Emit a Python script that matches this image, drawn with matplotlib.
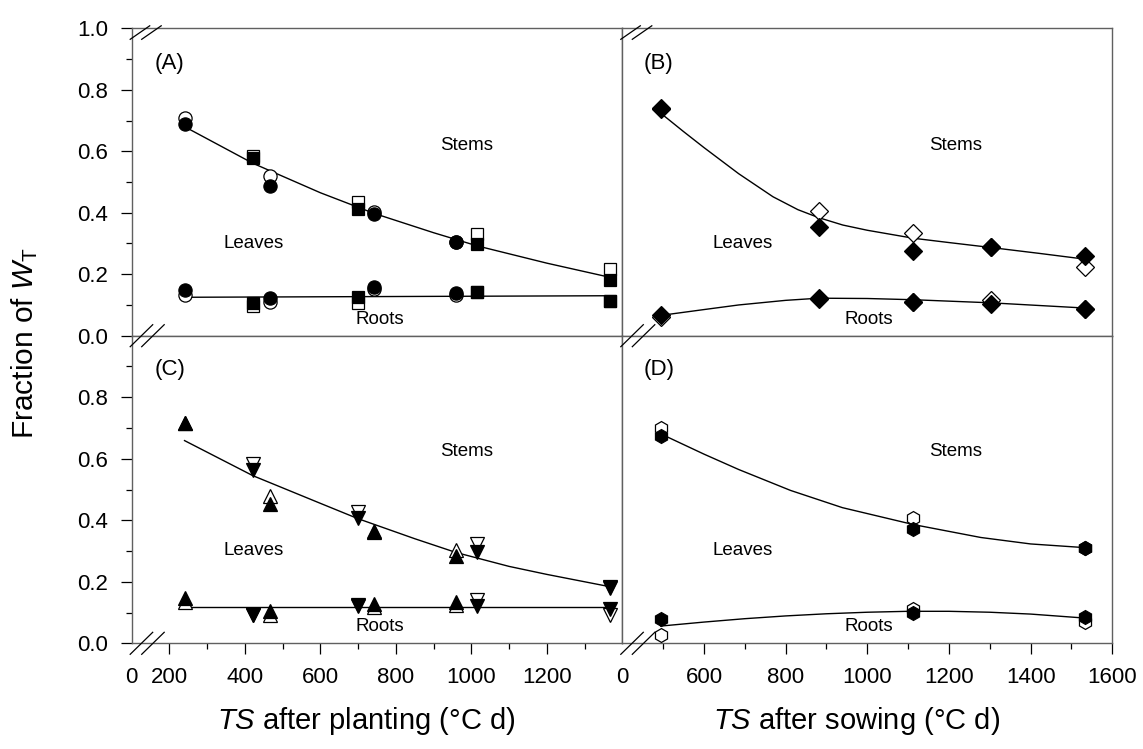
import matplotlib
matplotlib.use('Agg')
import matplotlib.pyplot as plt
from matplotlib.lines import Line2D

plt.rcParams['font.family'] = ['Liberation Sans', 'DejaVu Sans']
plt.rcParams['mathtext.fontset'] = 'custom'
plt.rcParams['mathtext.rm'] = 'Liberation Sans'
plt.rcParams['mathtext.it'] = 'Liberation Sans:italic'
plt.rcParams['mathtext.bf'] = 'Liberation Sans:bold'

# ---------------- data ----------------
# Panel A (TS after planting)
xA_circ = [240, 466, 743, 960]
A_leaf_circ_filled = [0.689, 0.488, 0.396, 0.304]
A_leaf_circ_open = [0.707, 0.520, 0.404, 0.304]
A_root_circ_filled = [0.149, 0.124, 0.160, 0.138]
A_root_circ_open = [0.133, 0.111, 0.151, 0.133]
xA_sq = [421, 700, 1016, 1367]
A_leaf_sq_filled = [0.577, 0.411, 0.299, 0.181]
A_leaf_sq_open = [0.585, 0.436, 0.330, 0.216]
A_root_sq_filled = [0.108, 0.127, 0.141, 0.113]
A_root_sq_open = [0.097, 0.106, 0.141, 0.113]
A_leaf_fit_x = [240, 421, 600, 742, 900, 1016, 1200, 1367]
A_leaf_fit_y = [0.680, 0.561, 0.465, 0.398, 0.335, 0.292, 0.236, 0.190]
A_root_fit_x = [240, 1367]
A_root_fit_y = [0.125, 0.130]

# Panel C (TS after planting)
xC_up = [240, 466, 743, 960]
C_leaf_up_filled = [0.717, 0.452, 0.361, 0.284]
C_leaf_up_open = [0.717, 0.480, 0.365, 0.303]
C_root_up_filled = [0.148, 0.105, 0.127, 0.135]
C_root_up_open = [0.135, 0.092, 0.117, 0.125]
xC_dn = [421, 700, 1016, 1367]
C_leaf_dn_filled = [0.564, 0.406, 0.296, 0.184]
C_leaf_dn_open = [0.583, 0.426, 0.322, 0.180]
C_root_dn_filled = [0.092, 0.122, 0.122, 0.111]
C_root_dn_open = [0.092, 0.125, 0.141, 0.092]
C_leaf_fit_x = [240, 421, 600, 700, 850, 960, 1100, 1200, 1367]
C_leaf_fit_y = [0.659, 0.545, 0.455, 0.405, 0.340, 0.295, 0.250, 0.224, 0.184]
C_root_fit_x = [240, 1367]
C_root_fit_y = [0.119, 0.119]

# Panel B (TS after sowing)
xB = [494, 881, 1113, 1302, 1533]
B_leaf_filled = [0.737, 0.355, 0.274, 0.288, 0.260]
B_leaf_open = [0.742, 0.407, 0.333, 0.288, 0.225]
B_root_filled = [0.068, 0.124, 0.111, 0.103, 0.086]
B_root_open = [0.060, 0.120, 0.111, 0.116, 0.086]
B_leaf_fit_x = [494, 550, 600, 685, 769, 830, 881, 940, 1000, 1113, 1200, 1302, 1420, 1533]
B_leaf_fit_y = [0.724, 0.664, 0.612, 0.527, 0.452, 0.410, 0.384, 0.360, 0.343,
                0.317, 0.303, 0.287, 0.268, 0.249]
B_root_fit_x = [494, 600, 685, 800, 881, 1000, 1113, 1302, 1533]
B_root_fit_y = [0.066, 0.085, 0.100, 0.115, 0.122, 0.121, 0.117, 0.107, 0.090]

# Panel D (TS after sowing)
xD = [494, 1113, 1533]
D_leaf_filled = [0.675, 0.371, 0.309]
D_leaf_open = [0.699, 0.407, 0.309]
D_root_filled = [0.079, 0.100, 0.087]
D_root_open = [0.027, 0.111, 0.070]
D_leaf_fit_x = [494, 600, 685, 812, 939, 1113, 1278, 1400, 1533]
D_leaf_fit_y = [0.681, 0.615, 0.565, 0.497, 0.441, 0.386, 0.344, 0.323, 0.311]
D_root_fit_x = [494, 600, 700, 800, 900, 1000, 1100, 1200, 1300, 1400, 1533]
D_root_fit_y = [0.056, 0.069, 0.080, 0.089, 0.096, 0.101, 0.104, 0.104, 0.101, 0.095, 0.082]

left_xticks = [100, 200, 400, 600, 800, 1000, 1200]
left_xlabels = ['0', '200', '400', '600', '800', '1000', '1200']
left_xminor = [300, 500, 700, 900, 1100, 1300]
right_xticks = [400, 600, 800, 1000, 1200, 1400, 1600]
right_xlabels = ['0', '600', '800', '1000', '1200', '1400', '1600']
right_xminor = [500, 700, 900, 1100, 1300, 1500]
yticksA = [0.0, 0.2, 0.4, 0.6, 0.8, 1.0]
yticksC = [0.0, 0.2, 0.4, 0.6, 0.8]
yminor = [0.1, 0.3, 0.5, 0.7, 0.9]

# ---------------- figure ----------------
W, H = 1143, 749
fig = plt.figure(figsize=(W / 100, H / 100), dpi=100)


def px_rect(x0, y0, x1, y1):
    return [x0 / W, 1 - y1 / H, (x1 - x0) / W, (y1 - y0) / H]


XL, XM, XR = 131.7, 622.3, 1112.3
YT, YM, YB = 28.3, 335.7, 643.3
axA = fig.add_axes(px_rect(XL, YT, XM, YM))
axB = fig.add_axes(px_rect(XM, YT, XR, YM))
axC = fig.add_axes(px_rect(XL, YM, XM, YB))
axD = fig.add_axes(px_rect(XM, YM, XR, YB))

SPINE = '#606060'
for ax in (axA, axB, axC, axD):
    for s in ax.spines.values():
        s.set_color(SPINE)
        s.set_linewidth(1.0)
    ax.set_ylim(0, 1)
    ax.tick_params(which='major', direction='out', length=8, width=0.9,
                   color='black', labelsize=16, pad=9)
    ax.tick_params(which='minor', direction='out', length=4.3, width=0.9,
                   color='black')

for ax in (axA, axC):
    ax.set_xlim(100, 1400)
for ax in (axB, axD):
    ax.set_xlim(400, 1600)

# A
axA.set_xticks([])
axA.set_yticks(yticksA)
axA.set_yticklabels(['%.1f' % v for v in yticksA])
axA.set_yticks(yminor, minor=True)
# C
axC.set_yticks(yticksC)
axC.set_yticklabels(['%.1f' % v for v in yticksC])
axC.set_yticks(yminor, minor=True)
axC.set_xticks(left_xticks)
axC.set_xticklabels(left_xlabels)
axC.set_xticks(left_xminor, minor=True)
axC.xaxis.get_major_ticks()[0].tick1line.set_visible(False)
# B
axB.tick_params(which='both', left=False, labelleft=False, bottom=False, labelbottom=False)
# D
axD.tick_params(which='both', left=False, labelleft=False)
axD.set_xticks(right_xticks)
axD.set_xticklabels(right_xlabels)
axD.set_xticks(right_xminor, minor=True)
axD.xaxis.get_major_ticks()[0].tick1line.set_visible(False)

MEW = 0.9


def pts(ax, x, y, marker, filled, ms):
    ax.plot(x, y, linestyle='none', marker=marker, markersize=ms,
            markerfacecolor='black' if filled else 'white',
            markeredgecolor='black', markeredgewidth=MEW,
            zorder=4 if filled else 3, clip_on=False)


def fit(ax, x, y):
    ax.plot(x, y, color='black', linewidth=1.0, zorder=2,
            solid_joinstyle='round')


# Panel A
fit(axA, A_leaf_fit_x, A_leaf_fit_y)
fit(axA, A_root_fit_x, A_root_fit_y)
for filled, lc, rc, ls, rs in [(False, A_leaf_circ_open, A_root_circ_open, A_leaf_sq_open, A_root_sq_open),
                               (True, A_leaf_circ_filled, A_root_circ_filled, A_leaf_sq_filled, A_root_sq_filled)]:
    pts(axA, xA_circ, lc, 'o', filled, 9.5)
    pts(axA, xA_circ, rc, 'o', filled, 9.5)
    pts(axA, xA_sq, ls, 's', filled, 8.5)
    pts(axA, xA_sq, rs, 's', filled, 8.5)

# Panel C
fit(axC, C_leaf_fit_x, C_leaf_fit_y)
fit(axC, C_root_fit_x, C_root_fit_y)
for filled, lu, ru, ld, rd in [(False, C_leaf_up_open, C_root_up_open, C_leaf_dn_open, C_root_dn_open),
                               (True, C_leaf_up_filled, C_root_up_filled, C_leaf_dn_filled, C_root_dn_filled)]:
    pts(axC, xC_up, lu, '^', filled, 10.5)
    pts(axC, xC_up, ru, '^', filled, 10.5)
    pts(axC, xC_dn, ld, 'v', filled, 10.5)
    pts(axC, xC_dn, rd, 'v', filled, 10.5)

# Panel B
fit(axB, B_leaf_fit_x, B_leaf_fit_y)
fit(axB, B_root_fit_x, B_root_fit_y)
for filled, lv, rv in [(False, B_leaf_open, B_root_open), (True, B_leaf_filled, B_root_filled)]:
    pts(axB, xB, lv, 'D', filled, 8.7)
    pts(axB, xB, rv, 'D', filled, 8.7)

# Panel D
fit(axD, D_leaf_fit_x, D_leaf_fit_y)
fit(axD, D_root_fit_x, D_root_fit_y)
for filled, lv, rv in [(False, D_leaf_open, D_root_open), (True, D_leaf_filled, D_root_filled)]:
    pts(axD, xD, lv, 'h', filled, 10)
    pts(axD, xD, rv, 'h', filled, 10)


# ---------------- texts ----------------
def ftext(x, y, s, **kw):
    fig.text(x / W, 1 - y / H, s, ha='center', va='center', **kw)


for (px, py), lab in zip([(169.8, 63.3), (658.9, 63.3), (169.8, 370), (658.9, 370)],
                         ['(A)', '(B)', '(C)', '(D)']):
    ftext(px, py, lab, fontsize=16)

for dx, dy in [(0, 0), (488.4, 0), (0, 307), (488.4, 307)]:
    ftext(467 + dx, 145 + dy, 'Stems', fontsize=13.5)
    ftext(254 + dx, 243.3 + dy, 'Leaves', fontsize=13.5)
    ftext(380 + dx, 319.3 + dy, 'Roots', fontsize=13.5)

ftext(25, 343, r'Fraction of $W_{\mathrm{T}}$', fontsize=21.5, rotation=90)
ftext(366, 721, r'$TS$ after planting (°C d)', fontsize=21)
ftext(857, 721, r'$TS$ after sowing (°C d)', fontsize=21)


# ---------------- axis break marks ----------------
def brk(cx, cy, top=False):
    y_lo = cy + 11
    y_hi = cy - (2.5 if top else 11)
    dx_hi = 18 if top else 21
    for off in (0, 11.5):
        xs = [cx - 1.5 + off, cx + dx_hi + off]
        ys = [y_lo, y_hi]
        fig.add_artist(Line2D([v / W for v in xs], [1 - v / H for v in ys],
                              transform=fig.transFigure, color='black', linewidth=0.9))


for cx in (XL, XM):
    brk(cx, YT, top=True)
    brk(cx, YM)
    brk(cx, YB)

fig.savefig('out.png', dpi=100)
